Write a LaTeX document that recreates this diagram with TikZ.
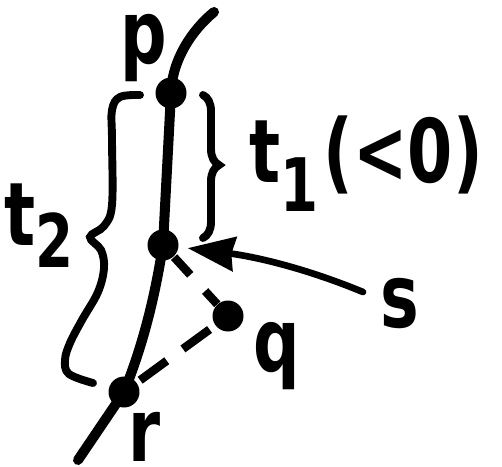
\documentclass[tikz,border=0pt]{standalone}
\usepackage{fontspec}
\newfontfamily\lettering[FakeStretch=0.74]{DejaVu Sans}
\usetikzlibrary{arrows.meta, calc, decorations.pathreplacing}
\newcommand{\lsub}[2][14pt]{\raisebox{-#1}{\fontsize{42}{42}\selectfont #2}}

\begin{document}
\begin{tikzpicture}[>=Stealth, x=0.02cm, y=-0.02cm,
  vertex/.style={circle, fill, inner sep=0pt, minimum size=0.62cm},
  lbl/.style={anchor=base west, inner sep=0pt,
              font={\lettering\bfseries\fontsize{50}{50}\selectfont}},
  curve/.style={line width=5.7pt, line cap=round},
  dashline/.style={line width=4.8pt},
  bracket/.style={line width=4.5pt, line cap=round}]
  \useasboundingbox (0,0) rectangle (502,466);

  \coordinate (top) at (214,12);
  \coordinate (tail) at (78,460);
  \node[vertex] (p) at (171,93) {};
  \node[vertex] (s) at (163,245) {};
  \node[vertex] (q) at (228,316) {};
  \node[vertex] (r) at (124,392) {};

  \draw[curve] (top) .. controls (192,30) and (172,60) .. (p.center) -- (s.center)
    .. controls (156,290) and (145,340) .. (r.center) -- (tail);
  \draw[dashline, dash pattern=on 0.48cm off 0.44cm, dash phase=0.12cm] (q) -- (s);
  \draw[dashline, dash pattern=on 0.66cm off 0.4cm, dash phase=0.92cm] (q) -- (r);

  \coordinate (sarr) at (363,292);
  \draw[line width=3.8pt, line cap=round,
        -{Stealth[length=0.94cm, width=0.68cm, inset=0.06cm]}, shorten >=0.18cm]
    (sarr) .. controls (300,266) and (250,256) .. (s);

  \draw[bracket, decorate, decoration={brace, amplitude=0.32cm, aspect=0.49}]
    (203,95) -- (203,238);
  \draw[bracket] plot[smooth, tension=0.6] coordinates {(140,95) (120,97) (112,110)
    (112,140) (112,205) (104,226) (90,237) (101,250) (104,268) (98,292) (82,320)
    (70,343) (65,360) (69,374) (93,383)};

  \node[lbl] (plabel) at (120,64) {p};
  \node[lbl] (qlabel) at (253,371) {q};
  \node[lbl] (rlabel) at (128,461) {r};
  \node[lbl] (slabel) at (380,327) {s};
  \node[lbl] (tone) at (249,182) {t\lsub[17pt]{1}\kern3pt(<0)};
  \node[lbl] (ttwo) at (4,245) {t\lsub[13pt]{2}};
\end{tikzpicture}
\end{document}
